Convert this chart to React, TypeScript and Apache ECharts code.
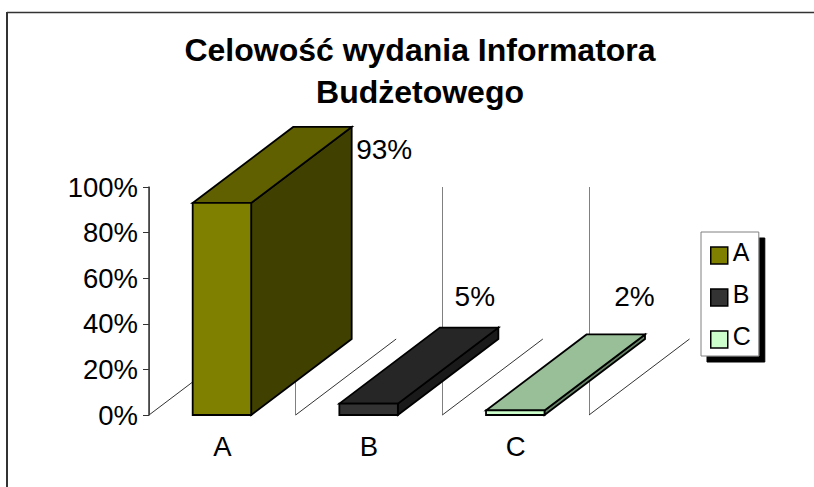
import React, { useEffect, useRef } from "react";
import * as echarts from "echarts";

const categories = ["A", "B", "C"];
const seriesValues = [93, 5, 2];
const frontColors = ["#808000", "#333333", "#ccffcc"];
const topColors = ["#606000", "#262626", "#99bf99"];
const sideColors = ["#404000", "#1a1a1a", "#668066"];
const valueLabels = ["93%", "5%", "2%"];
const labelOffsets = [[32.5, 23], [-23.5, -31], [-10.5, -38]];
const FONT = '"Liberation Sans", Arial, sans-serif';
const DX = 100.5;
const DY = 76;
const BAR = 58.5;

export default function App() {
  const ref = useRef<HTMLDivElement>(null);
  useEffect(() => {
    document.body.style.margin = "0";
    const chart = echarts.init(ref.current!, null, { renderer: "svg" });
    const renderBar = (params: any, api: any) => {
      const i = api.value(0);
      const top = api.coord([i, api.value(1)]);
      const base = api.coord([i, 0]);
      const x0 = top[0] - BAR / 2 - 0.4;
      const x1 = x0 + BAR;
      const s = { stroke: "#000", lineWidth: 1.8, lineJoin: "miter" };
      const poly = (points: number[][], fill: string) => ({
        type: "polygon",
        shape: { points },
        style: { ...s, fill },
      });
      const off = labelOffsets[i];
      return {
        type: "group",
        children: [
          poly([[x1, base[1]], [x1 + DX, base[1] - DY], [x1 + DX, top[1] - DY], [x1, top[1]]], sideColors[i]),
          poly([[x0, top[1]], [x0 + DX, top[1] - DY], [x1 + DX, top[1] - DY], [x1, top[1]]], topColors[i]),
          poly([[x0, base[1]], [x1, base[1]], [x1, top[1]], [x0, top[1]]], frontColors[i]),
          {
            type: "text",
            x: x1 + DX + off[0],
            y: top[1] - DY + off[1],
            style: {
              text: valueLabels[i],
              font: `28px ${FONT}`,
              fill: "#000",
              align: "center",
              verticalAlign: "middle",
            },
          },
        ],
      };
    };
    const renderFloor = (params: any, api: any) => {
      const i = api.value(0);
      const p = api.coord([i, 0]);
      const half = api.size([1, 0])[0] / 2;
      const x = p[0] + half;
      const line = (a: number[], b: number[], stroke: string) => ({
        type: "line",
        shape: { x1: a[0], y1: a[1], x2: b[0], y2: b[1] },
        style: { stroke, lineWidth: 1 },
      });
      const left = p[0] - half;
      const kids: any[] = [line([x, p[1]], [x + DX, p[1] - DY], "#333")];
      if (i === 0) kids.push(line([left, p[1]], [left + DX, p[1] - DY], "#333"));
      return { type: "group", children: kids };
    };
    chart.setOption({
      animation: false,
      backgroundColor: "#fff",
      title: {
        text: "Celowość wydania Informatora\nBudżetowego",
        left: 415,
        top: 24,
        textAlign: "center",
        textStyle: { fontFamily: FONT, fontWeight: "bold", fontSize: 32, lineHeight: 42, color: "#000" },
      },
      grid: { left: 149, top: 187, width: 440, height: 228 },
      xAxis: {
        type: "category",
        data: categories,
        axisLine: { show: false },
        axisTick: { show: false },
        splitLine: { show: true, lineStyle: { color: "#808080", width: 1 } },
        axisLabel: { fontFamily: FONT, fontSize: 27.5, color: "#000", margin: 17 },
      },
      yAxis: {
        type: "value",
        min: 0,
        max: 100,
        interval: 20,
        axisLine: { show: true, lineStyle: { color: "#333", width: 1.5 } },
        axisTick: { show: true, length: 6, lineStyle: { color: "#333", width: 1 } },
        splitLine: { show: false },
        axisLabel: { fontFamily: FONT, fontSize: 27.5, color: "#000", margin: 11, formatter: (v: number) => `${v}%` },
      },
      legend: {
        orient: "vertical",
        left: 701,
        top: 232,
        padding: [7.5, 8, 3.5, 9],
        itemGap: 13,
        itemWidth: 17,
        itemHeight: 17,
        backgroundColor: "#fff",
        borderColor: "#808080",
        borderWidth: 1,
        shadowColor: "#000",
        shadowBlur: 0,
        shadowOffsetX: 6,
        shadowOffsetY: 6,
        formatter: (name: string) => `{a|${name}}\n{s| }`,
        textStyle: {
          fontFamily: FONT,
          fontSize: 25,
          color: "#000",
          rich: {
            a: { fontFamily: FONT, fontSize: 25, lineHeight: 25, color: "#000" },
            s: { fontSize: 1, lineHeight: 7 },
          },
        },
        data: categories.map((name, i) => ({
          name,
          icon: "rect",
          itemStyle: { color: frontColors[i], borderColor: "#000", borderWidth: 1.5 },
        })),
      },
      graphic: [
        { type: "line", shape: { x1: 7, y1: 12.5, x2: 814, y2: 12.5 }, style: { stroke: "#333", lineWidth: 1.6 } },
        { type: "line", shape: { x1: 7, y1: 12, x2: 7, y2: 487 }, style: { stroke: "#333", lineWidth: 2 } },
      ],
      series: [
        {
          type: "custom",
          name: "floor",
          silent: true,
          z: 1,
          renderItem: renderFloor,
          data: categories.map((_, i) => [i]),
          encode: { x: 0 },
        },
        ...categories.map((name, i) => ({
          type: "custom",
          name,
          z: 2,
          renderItem: renderBar,
          data: [[i, seriesValues[i]]],
          encode: { x: 0, y: 1 },
          itemStyle: { color: frontColors[i] },
        })),
      ],
    });
    return () => chart.dispose();
  }, []);
  return <div ref={ref} style={{ width: 814, height: 487 }} />;
}
